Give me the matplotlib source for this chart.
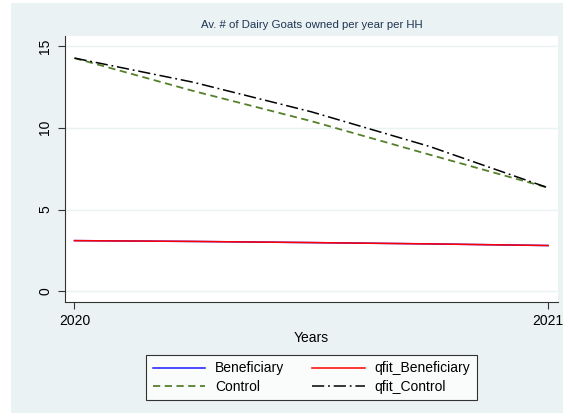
import matplotlib.pyplot as plt
from matplotlib.patches import Rectangle

plt.rcParams['font.family'] = ['Liberation Sans', 'DejaVu Sans']

# years (fractional positions along the x axis)
years = [2020, 2020.25, 2020.5, 2020.75, 2021]

# series values
beneficiary = [3.10, 3.05, 2.98, 2.90, 2.80]
qfit_beneficiary = [3.10, 3.05, 2.98, 2.90, 2.80]
control = [14.25, 12.25, 10.40, 8.35, 6.33]
qfit_control = [14.25, 12.78, 10.97, 8.85, 6.33]

bg = '#eaf2f3'

fig = plt.figure(figsize=(5.7, 4.16), dpi=100, facecolor='white')
# stata-style light background panel
fig.patches.append(Rectangle((11 / 570, 3 / 416), 552 / 570, 410 / 416,
                             transform=fig.transFigure, facecolor=bg,
                             edgecolor='none', zorder=-10))

ax = fig.add_axes([65 / 570, 1 - 302 / 416, 493 / 570, 266 / 416])
ax.set_facecolor('white')

h1, = ax.plot(years, beneficiary, color='#1a1aff', lw=1.1, label='Beneficiary')
h2, = ax.plot(years, qfit_beneficiary, color='#ff0000', lw=1.1, label='qfit_Beneficiary')
h3, = ax.plot(years, control, color='#55802a', lw=1.3, linestyle=(0, (4, 2.5)), label='Control')
h4, = ax.plot(years, qfit_control, color='black', lw=1.1,
              linestyle=(0, (8, 2.5, 1.2, 2.5)), label='qfit_Control')

ax.set_xlim(2019.98, 2021.021)
ax.set_ylim(-0.65, 15.6)
ax.set_xticks([2020, 2021])
ax.set_xticklabels(['2020', '2021'])
ax.set_yticks([0, 5, 10, 15])
ax.set_yticklabels(['0', '5', '10', '15'], rotation=90, va='center')
ax.tick_params(axis='both', labelsize=10, length=5, width=0.8, color='#333333')
ax.tick_params(axis='y', pad=4)

ax.grid(axis='y', color=bg, lw=1.0)
ax.set_axisbelow(True)
for s in ['top', 'right']:
    ax.spines[s].set_visible(False)
for s in ['left', 'bottom']:
    ax.spines[s].set_color('#333333')
    ax.spines[s].set_linewidth(0.8)

ax.set_title('Av. # of Dairy Goats owned per year per HH', fontsize=8.2,
             color='#1e3553', pad=6)
ax.set_xlabel('Years', fontsize=10, labelpad=2)

# row-wise order like stata: matplotlib fills columns first
leg = fig.legend([h1, h3, h2, h4],
                 ['Beneficiary', 'Control', 'qfit_Beneficiary', 'qfit_Control'],
                 loc='center', bbox_to_anchor=(311.5 / 570, 1 - 377.5 / 416),
                 ncol=2, fontsize=10, frameon=True, fancybox=False,
                 edgecolor='black', facecolor='white', handlelength=3.8,
                 handletextpad=0.7, columnspacing=2.0, borderpad=0.45,
                 labelspacing=0.3)
leg.get_frame().set_linewidth(0.8)

fig.savefig('out.png', dpi=100, facecolor='white')
